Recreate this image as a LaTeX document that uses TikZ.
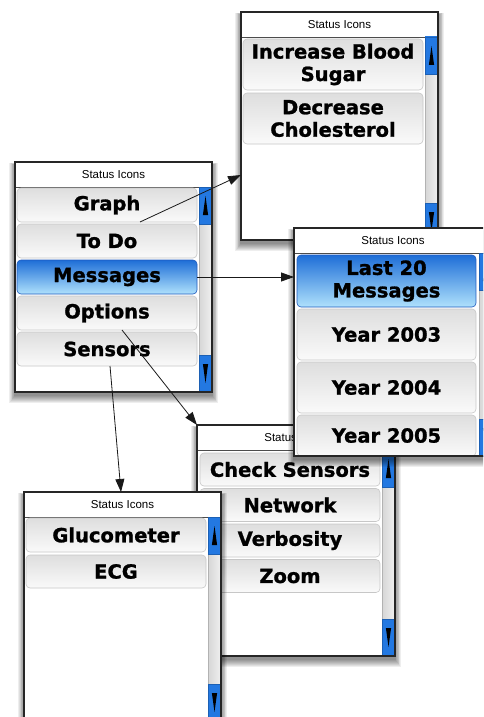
\documentclass[tikz,border=0pt]{standalone}
\usepackage{fontspec}
\newfontfamily\btnfont{DejaVu Sans}[BoldFeatures={FakeBold=1.2}]
\newfontfamily\ttlfont{Liberation Sans}
\usetikzlibrary{arrows.meta,calc}

\definecolor{selTop}{RGB}{30,110,215}
\definecolor{selBot}{RGB}{175,225,252}
\definecolor{selLine}{RGB}{30,90,190}
\definecolor{sbBlue}{RGB}{35,120,225}
\definecolor{sbLight}{RGB}{150,205,250}

\tikzset{
  btn/.style={draw=black!22, line width=0.6pt, rounded corners=4pt,
    top color=black!13, bottom color=black!2,
    font=\btnfont\bfseries\fontsize{19.5}{22.5}\selectfont,
    align=center, inner sep=0pt, text=black},
  selbtn/.style={btn, draw=selLine, top color=selTop, bottom color=selBot},
  winfill/.style={fill=white, draw=none, inner sep=0pt},
  frameline/.style={draw=black!85, line width=1.1pt},
  ttl/.style={font=\ttlfont\fontsize{11.5}{13}\selectfont, inner sep=0pt, text=black},
  sepline/.style={draw=black!70, line width=0.6pt},
  track/.style={draw=black!30, line width=0.4pt, inner sep=0pt,
    left color=black!16, middle color=white, right color=black!6},
  sbbox/.style={draw=sbBlue!80!black, line width=0.4pt, inner sep=0pt,
    left color=sbBlue, middle color=sbLight, right color=sbBlue},
  link/.style={-{Triangle[length=13pt,width=9pt]}, line width=0.8pt, draw=black!90},
}

% box node by its corners: style, name, x1, y1, x2, y2, text
\newcommand\uibox[7]{%
  \pgfmathsetmacro\bw{(#5)-(#3)}\pgfmathsetmacro\bh{(#6)-(#4)}%
  \pgfmathsetmacro\bx{((#3)+(#5))/2}\pgfmathsetmacro\by{((#4)+(#6))/2}%
  \node[#1, minimum width=\bw pt, minimum height=\bh pt, outer sep=0pt, anchor=center] (#2) at (\bx,\by) {#7};}

\newcommand\uiwin[5]{%
  \foreach \i in {1,...,8}{\fill[black,opacity=0.065] ({#2-\i*0.7},{#3+3-\i*0.3}) rectangle ({#4+\i*0.7},{#5+3+\i*1.0});}
  \uibox{winfill}{#1}{#2}{#3}{#4}{#5}{}
  \uibox{ttl}{#1t}{#2}{#3}{#4}{#3+25}{Status Icons}
  \draw[sepline] (#1t.south west) -- (#1t.south east);
  \uibox{track}{#1s}{#4-13}{#3+25}{#4}{#5}{}
  \uibox{sbbox}{#1u}{#4-13}{#3+25}{#4}{#3+62}{}
  \uibox{sbbox}{#1d}{#4-13}{#5-37}{#4}{#5}{}
  \fill ($(#1u.center)+(0,-9.5)$) -- ($(#1u.center)+(2.6,9.5)$) -- ($(#1u.center)+(-2.6,9.5)$) -- cycle;
  \fill ($(#1d.center)+(0,9.5)$) -- ($(#1d.center)+(2.6,-9.5)$) -- ($(#1d.center)+(-2.6,-9.5)$) -- cycle;
}
\newcommand\uiframe[1]{\draw[frameline] (#1.north west) rectangle (#1.south east);}

\begin{document}
\begin{tikzpicture}[x=1pt,y=-1pt]
\useasboundingbox (0,0) rectangle (483,717);
\clip (0,0) rectangle (483,717);
\fill[white] (0,0) rectangle (483,717);

% window B (top)
\uiwin{winB}{241}{12}{438}{240}
\uibox{btn}{incr}{243}{39}{423}{90}{Increase Blood\\Sugar}
\uibox{btn}{decr}{243}{93}{423}{144}{Decrease\\Cholesterol}
\uiframe{winB}

% window D (options)
\uiwin{winD}{197}{425}{395}{656}
\uibox{btn}{check}{200}{453}{380}{486}{Check Sensors}
\uibox{btn}{network}{200}{488.5}{380}{521.5}{Network}
\uibox{btn}{verb}{200}{524}{380}{557}{Verbosity}
\uibox{btn}{zoom}{200}{559.5}{380}{592.5}{Zoom}
\uiframe{winD}

% window C (messages)
\uiwin{winC}{294}{228}{492}{456}
\uibox{selbtn}{last}{297}{255}{476}{307}{Last 20\\Messages}
\uibox{btn}{ya}{297}{309}{476}{360}{Year 2003}
\uibox{btn}{yb}{297}{362}{476}{413}{Year 2004}
\uibox{btn}{yc}{297}{415}{476}{456}{Year 2005}
\uiframe{winC}

% window E (sensors)
\uiwin{winE}{24}{492}{221}{721}
\uibox{btn}{gluc}{26}{518}{206}{552}{Glucometer}
\uibox{btn}{ecg}{26}{555}{206}{588}{ECG}
\uiframe{winE}

% window A (main)
\uiwin{winA}{15}{162}{212}{392}
\uibox{btn}{graph}{17}{188}{197}{222}{Graph}
\uibox{btn}{todo}{17}{224}{197}{258}{To Do}
\uibox{selbtn}{messages}{17}{260}{197}{294}{Messages}
\uibox{btn}{options}{17}{296}{197}{330}{Options}
\uibox{btn}{sensors}{17}{332}{197}{366}{Sensors}
\uiframe{winA}

% connectors
\draw[link] ([xshift=33pt]graph.south) -- ([yshift=-49pt]winB.west);
\draw[link] (messages.east) -- (messages.east -| winC.west);
\draw[link] ([xshift=15pt]options.south) -- (winD.north west);
\draw[link] ([xshift=3pt]sensors.south) -- ([xshift=97pt]winE.north west);
\end{tikzpicture}
\end{document}
